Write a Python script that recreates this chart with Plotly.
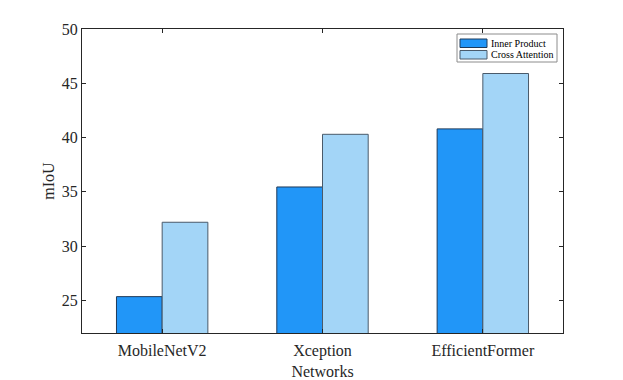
import plotly.graph_objects as go

# данные с картинки
networks = ["MobileNetV2", "Xception", "EfficientFormer"]
series_names = ["Inner Product", "Cross Attention"]
inner_product = [25.35, 35.45, 40.8]
cross_attention = [32.2, 40.3, 45.9]
y_ticks = [25, 30, 35, 40, 45, 50]

positions = [1, 2, 3]
colors = ["#2196f8", "#a3d5f7"]
edge_colors = ["#1e3a5a", "#4a5a6a"]
axis_color = "#262626"
font_family = "Liberation Serif, Times New Roman, serif"

# страница имеет отступ 8px, поэтому фигура чуть меньше окна
W, H = 615, 372
L, R, T, B = 74, 60, 21, 47
plot_w = W - L - R
plot_h = H - T - B


def px_x(x):
    """пиксели окна -> доля области графика"""
    return (x - 8 - L) / plot_w


def px_y(y):
    return 1 - (y - 8 - T) / plot_h


fig = go.Figure()
for name, vals, col, edge in zip(series_names, [inner_product, cross_attention], colors, edge_colors):
    fig.add_trace(go.Bar(
        x=positions, y=vals, name=name,
        marker=dict(color=col, line=dict(color=edge, width=1)),
    ))

# легенда в стиле MATLAB
shapes = [dict(type="rect", xref="paper", yref="paper",
               x0=px_x(457), x1=px_x(557), y0=px_y(62), y1=px_y(34),
               line=dict(color="#8c8c8c", width=1), fillcolor="white", layer="above")]
annotations = []
for i, (name, col, edge) in enumerate(zip(series_names, colors, edge_colors)):
    top = 39 + i * 11.5
    shapes.append(dict(type="rect", xref="paper", yref="paper",
                       x0=px_x(460), x1=px_x(487), y0=px_y(top + 8.5), y1=px_y(top),
                       line=dict(color=edge, width=1), fillcolor=col, layer="above"))
    annotations.append(dict(xref="paper", yref="paper", x=px_x(489), y=px_y(top + 4.3),
                            xanchor="left", yanchor="middle", showarrow=False, text=name,
                            font=dict(family=font_family, size=10, color="black")))

fig.update_layout(
    width=W, height=H,
    margin=dict(l=L, r=R, t=T, b=B, autoexpand=False),
    plot_bgcolor="white", paper_bgcolor="white",
    barmode="group", bargap=0.43, bargroupgap=0,
    font=dict(family=font_family, size=16, color=axis_color),
    showlegend=False,
    shapes=shapes, annotations=annotations,
)

fig.update_xaxes(
    range=[0.5, 3.5], tickvals=positions, ticktext=networks,
    showline=True, linecolor=axis_color, linewidth=1, mirror="ticks",
    ticks="inside", ticklen=4, tickcolor=axis_color, ticklabelstandoff=3,
    showgrid=False, zeroline=False, automargin=False,
    tickfont=dict(family=font_family, size=16),
    title=dict(text="Networks", standoff=10, font=dict(family=font_family, size=16)),
)
fig.update_yaxes(
    range=[22, 50], tickvals=y_ticks,
    showline=True, linecolor=axis_color, linewidth=1, mirror="ticks",
    ticks="inside", ticklen=4, tickcolor=axis_color,
    showgrid=False, zeroline=False, automargin=False,
    tickfont=dict(family=font_family, size=16),
    title=dict(text="mIoU", standoff=3, font=dict(family=font_family, size=16)),
)

fig.write_html("out.html")
